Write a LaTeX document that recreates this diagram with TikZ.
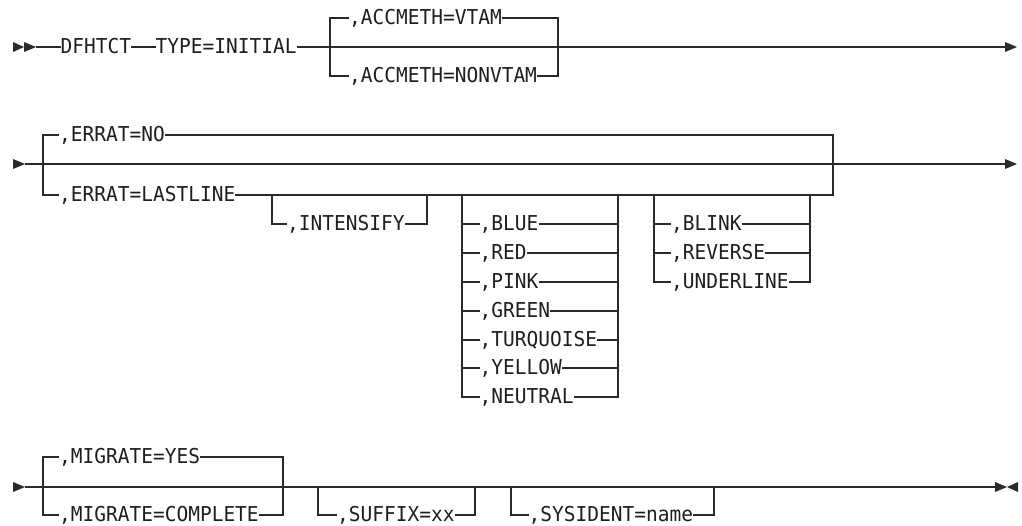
\documentclass[tikz,border=0pt]{standalone}
\usepackage{fontspec}
\newfontfamily\rrfont[FakeStretch=0.951]{DejaVu Sans Mono}
\definecolor{linec}{HTML}{2A2A2A}
\definecolor{textc}{HTML}{1E1E1E}
\tikzset{
  rr/.style={draw=linec, line width=1.3pt, line cap=butt, line join=miter},
  lbl/.style={font=\rrfont\fontsize{20.5}{21}\selectfont, text=textc, inner sep=0pt,
              text height=12.6pt, text depth=0pt, anchor=west},
  tip/.style={fill=linec, draw=none}
}
\begin{document}
\begin{tikzpicture}[x=1pt,y=-1pt]
\useasboundingbox (0,0) rectangle (1022,525);

% ===== Row 1 =====
\fill[tip] (13,42) -- (24,47) -- (13,52) -- cycle;
\fill[tip] (24,42) -- (36,47) -- (24,52) -- cycle;
\coordinate (r1s) at (36,47);
\coordinate (r1e) at (1005,47);
\fill[tip] (1005,42) -- (1017,47) -- (1005,52) -- cycle;
\node[lbl] (dfh) at (60.5,47) {DFHTCT};
\node[lbl] (typ) at (155.5,47) {TYPE=INITIAL};
\draw[rr] (r1s) -- (dfh.west);
\draw[rr] (dfh.east) -- (typ.west);
\draw[rr] (typ.east) -- (r1e);
\coordinate (a1) at (330,47);
\coordinate (a2) at (558,47);
\node[lbl] (vtam) at (349,18) {,ACCMETH=VTAM};
\node[lbl] (nonv) at (349,76) {,ACCMETH=NONVTAM};
\draw[rr] (a1) |- (vtam.west);
\draw[rr] (vtam.east) -| (a2);
\draw[rr] (a1) |- (nonv.west);
\draw[rr] (nonv.east) -| (a2);

% ===== Row 2 =====
\fill[tip] (13,159) -- (25,164) -- (13,169) -- cycle;
\coordinate (r2s) at (25,164);
\coordinate (r2e) at (1005,164);
\fill[tip] (1005,159) -- (1017,164) -- (1005,169) -- cycle;
\draw[rr] (r2s) -- (r2e);
\coordinate (e1) at (43,164);
\coordinate (e2) at (833,164);
\node[lbl] (eno) at (59,135) {,ERRAT=NO};
\node[lbl] (elast) at (59,195) {,ERRAT=LASTLINE};
\draw[rr] (e1) |- (eno.west);
\draw[rr] (eno.east) -| (e2);
\draw[rr] (e1) |- (elast.west);
\draw[rr] (elast.east) -| (e2);
% intensify
\coordinate (i1) at (272,195);
\coordinate (i2) at (427,195);
\node[lbl] (ints) at (287,224) {,INTENSIFY};
\draw[rr] (i1) |- (ints.west);
\draw[rr] (ints.east) -| (i2);
% colours
\coordinate (c1) at (462,195);
\coordinate (c2) at (618,195);
\foreach \n/\t/\y in {cb/BLUE/224, cr/RED/253, cp/PINK/282, cg/GREEN/311, ct/TURQUOISE/340, cy/YELLOW/368, cn/NEUTRAL/397}{
  \node[lbl] (\n) at (479.5,\y) {,\t};
  \draw[rr] (c1) |- (\n.west);
  \draw[rr] (\n.east) -| (c2);
}
% highlight
\coordinate (h1) at (654,195);
\coordinate (h2) at (810,195);
\foreach \n/\t/\y in {hb/BLINK/224, hr/REVERSE/253, hu/UNDERLINE/282}{
  \node[lbl] (\n) at (671,\y) {,\t};
  \draw[rr] (h1) |- (\n.west);
  \draw[rr] (\n.east) -| (h2);
}

% ===== Row 3 =====
\fill[tip] (13,482) -- (25,487) -- (13,492) -- cycle;
\coordinate (r3s) at (25,487);
\coordinate (r3e) at (995,487);
\fill[tip] (995,482) -- (1007,487) -- (995,492) -- cycle;
\fill[tip] (1018,482) -- (1007,487) -- (1018,492) -- cycle;
\draw[rr] (r3s) -- (r3e);
\coordinate (m1) at (43,487);
\coordinate (m2) at (283,487);
\node[lbl] (myes) at (59,457) {,MIGRATE=YES};
\node[lbl] (mcom) at (59,515) {,MIGRATE=COMPLETE};
\draw[rr] (m1) |- (myes.west);
\draw[rr] (myes.east) -| (m2);
\draw[rr] (m1) |- (mcom.west);
\draw[rr] (mcom.east) -| (m2);
\coordinate (s1) at (318,487);
\coordinate (s2) at (475,487);
\node[lbl] (suf) at (337,515) {,SUFFIX=xx};
\draw[rr] (s1) |- (suf.west);
\draw[rr] (suf.east) -| (s2);
\coordinate (y1) at (511,487);
\coordinate (y2) at (714,487);
\node[lbl] (sys) at (528.5,515) {,SYSIDENT=name};
\draw[rr] (y1) |- (sys.west);
\draw[rr] (sys.east) -| (y2);
\end{tikzpicture}
\end{document}
